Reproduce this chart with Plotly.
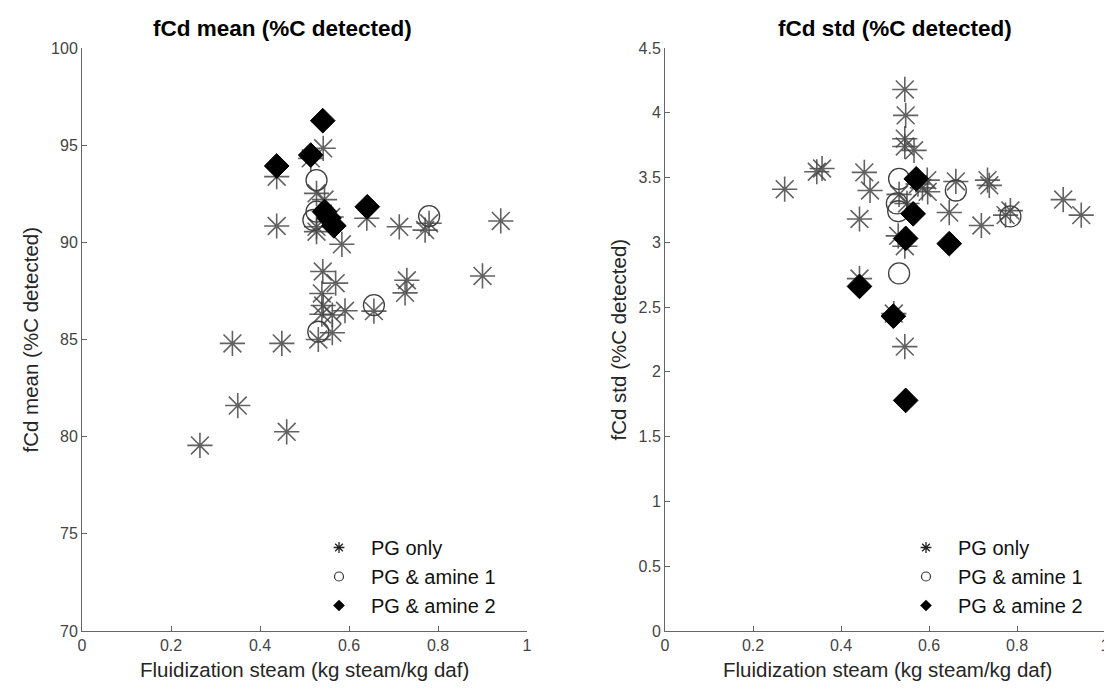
import plotly.graph_objects as go

# ---------------- data: left panel (fCd mean) ----------------
pg_mean_x = [0.265, 0.46, 0.35, 0.338, 0.449, 0.531, 0.5625, 0.541, 0.570, 0.539,
             0.542, 0.539, 0.5625, 0.591, 0.656, 0.73, 0.726, 0.90, 0.584, 0.4375,
             0.527, 0.527, 0.64, 0.713, 0.771, 0.78, 0.941, 0.527, 0.4375, 0.514,
             0.542, 0.545, 0.56]
pg_mean_y = [79.55, 80.25, 81.6, 84.8, 84.8, 85.0, 85.35, 88.5, 87.9, 87.37,
             86.75, 86.3, 86.26, 86.48, 86.46, 88.05, 87.4, 88.27, 89.9, 90.84,
             90.8, 90.55, 91.24, 90.8, 90.63, 90.98, 91.1, 92.52, 93.38, 94.32,
             94.84, 92.2, 91.3]

a1_mean_x = [0.527, 0.527, 0.52, 0.78, 0.656, 0.531]
a1_mean_y = [93.2, 91.58, 91.15, 91.35, 86.77, 85.4]

a2_mean_x = [0.541, 0.514, 0.4375, 0.641, 0.545, 0.555, 0.566]
a2_mean_y = [96.26, 94.49, 93.93, 91.83, 91.58, 91.25, 90.85]

# ---------------- data: right panel (fCd std) ----------------
pg_std_x = [0.545, 0.547, 0.545, 0.545, 0.566, 0.345, 0.357, 0.272, 0.453, 0.466,
            0.442, 0.661, 0.646, 0.733, 0.737, 0.719, 0.774, 0.785, 0.905, 0.946,
            0.545, 0.442, 0.532, 0.597, 0.575, 0.53, 0.545, 0.55, 0.52, 0.596,
            0.585]
pg_std_y = [4.18, 3.98, 3.80, 3.74, 3.71, 3.545, 3.57, 3.41, 3.54, 3.40,
            3.18, 3.47, 3.23, 3.48, 3.44, 3.13, 3.21, 3.245, 3.33, 3.21,
            2.195, 2.72, 3.37, 3.39, 3.45, 3.05, 2.97, 3.3, 2.45, 3.48,
            3.42]

a1_std_x = [0.532, 0.527, 0.53, 0.532, 0.661, 0.785]
a1_std_y = [3.49, 3.30, 3.24, 2.76, 3.40, 3.20]

a2_std_x = [0.571, 0.564, 0.547, 0.646, 0.442, 0.519, 0.547]
a2_std_y = [3.49, 3.22, 3.03, 2.99, 2.66, 2.43, 1.78]

x_ticks = [0, 0.2, 0.4, 0.6, 0.8, 1]
x_ticklabels = ["0", "0.2", "0.4", "0.6", "0.8", "1"]
mean_ticks = [70, 75, 80, 85, 90, 95, 100]
std_ticks = [0, 0.5, 1, 1.5, 2, 2.5, 3, 3.5, 4, 4.5]
std_ticklabels = ["0", "0.5", "1", "1.5", "2", "2.5", "3", "3.5", "4", "4.5"]

legend_names = ["PG only", "PG & amine 1", "PG & amine 2"]
titles = ["fCd mean (%C detected)", "fCd std (%C detected)"]
ytitles = ["fCd mean (%C detected)", "fCd std (%C detected)"]
xlabel = "Fluidization steam (kg steam/kg daf)"

FONT = "Liberation Sans, Arial, sans-serif"

star = dict(symbol="asterisk-open", size=21, color="rgba(70,70,70,0.85)",
            line=dict(width=1.6, color="rgba(70,70,70,0.85)"))
circ = dict(symbol="circle-open", size=21, color="#404040",
            line=dict(width=1.3, color="#404040"))
diam = dict(symbol="diamond", size=19, color="black",
            line=dict(width=1, color="black"))

fig = go.Figure()

panels = [
    (pg_mean_x, pg_mean_y, a1_mean_x, a1_mean_y, a2_mean_x, a2_mean_y, "x", "y", "legend"),
    (pg_std_x, pg_std_y, a1_std_x, a1_std_y, a2_std_x, a2_std_y, "x2", "y2", "legend2"),
]
for (px_, py_, cx, cy, dx, dy, xa, ya, lg) in panels:
    fig.add_trace(go.Scatter(x=px_, y=py_, mode="markers", marker=star,
                             showlegend=False, xaxis=xa, yaxis=ya, hoverinfo="skip"))
    fig.add_trace(go.Scatter(x=cx, y=cy, mode="markers", marker=circ,
                             showlegend=False, xaxis=xa, yaxis=ya, hoverinfo="skip"))
    fig.add_trace(go.Scatter(x=dx, y=dy, mode="markers", marker=diam,
                             showlegend=False, xaxis=xa, yaxis=ya, hoverinfo="skip"))
    # legend entries with small symbols
    fig.add_trace(go.Scatter(x=[None], y=[None], mode="markers", name=legend_names[0],
                             marker=dict(symbol="asterisk-open", size=9, color="#222",
                                         line=dict(width=1.3, color="#222")),
                             xaxis=xa, yaxis=ya, legend=lg))
    fig.add_trace(go.Scatter(x=[None], y=[None], mode="markers", name=legend_names[1],
                             marker=dict(symbol="circle-open", size=9, color="#333",
                                         line=dict(width=1.2, color="#333")),
                             xaxis=xa, yaxis=ya, legend=lg))
    fig.add_trace(go.Scatter(x=[None], y=[None], mode="markers", name=legend_names[2],
                             marker=dict(symbol="diamond", size=9, color="black"),
                             xaxis=xa, yaxis=ya, legend=lg))

axis_common = dict(showline=True, linecolor="#666", linewidth=1, ticks="inside",
                   ticklen=5, tickcolor="#666", showgrid=False, zeroline=False,
                   tickfont=dict(family=FONT, size=16, color="#444"),
                   mirror=False, automargin=False)

# the page places the figure 8 px from the window's top-left corner
OFF = 8
W, H = 1104, 685
L, R, T, B = 74, 7, 40, 62
pw = W - L - R
ph = H - T - B


def sx(px):
    """screen x pixel -> paper x"""
    return (px - OFF - L) / pw


def sy(py):
    """screen y pixel -> paper y"""
    return (H - B - (py - OFF)) / ph


fig.update_layout(
    width=W, height=H,
    margin=dict(l=L, r=R, t=T, b=B),
    paper_bgcolor="white", plot_bgcolor="white",
    font=dict(family=FONT, color="#262626"),
    xaxis=dict(domain=[0, sx(527)], range=[0, 1], tickvals=x_ticks,
               ticktext=x_ticklabels, **axis_common),
    yaxis=dict(range=[70, 100], tickvals=mean_ticks, **axis_common),
    xaxis2=dict(domain=[sx(665), 1], range=[0, 1], tickvals=x_ticks,
                ticktext=x_ticklabels, anchor="y2", ticklabeloverflow="allow",
                **axis_common),
    yaxis2=dict(range=[0, 4.5], tickvals=std_ticks, ticktext=std_ticklabels,
                anchor="x2", **axis_common),
    legend=dict(x=sx(307), y=sy(528), xref="paper", yref="paper",
                xanchor="left", yanchor="top",
                bgcolor="rgba(255,255,255,0)", font=dict(family=FONT, size=20, color="#111"),
                tracegroupgap=0, itemsizing="trace", itemwidth=54),
    legend2=dict(x=sx(894), y=sy(528), xref="paper", yref="paper",
                 xanchor="left", yanchor="top",
                 bgcolor="rgba(255,255,255,0)", font=dict(family=FONT, size=20, color="#111"),
                 tracegroupgap=0, itemsizing="trace", itemwidth=54),
)

ann = []
# titles
for txt, cx in zip(titles, [282, 895]):
    ann.append(dict(text="<b>" + txt + "</b>", x=sx(cx), y=sy(29),
                    xref="paper", yref="paper", showarrow=False, xanchor="center",
                    yanchor="middle", font=dict(family=FONT, size=22.5, color="black")))
# x-axis titles
for cx in [304, 887]:
    ann.append(dict(text=xlabel, x=sx(cx), y=sy(669),
                    xref="paper", yref="paper", showarrow=False, xanchor="center",
                    yanchor="middle", font=dict(family=FONT, size=20.5, color="#262626")))
# y-axis titles
for txt, cx in zip(ytitles, [30, 618]):
    ann.append(dict(text=txt, x=sx(cx), y=sy(339.5),
                    xref="paper", yref="paper", showarrow=False, xanchor="center",
                    yanchor="middle", textangle=-90,
                    font=dict(family=FONT, size=20.5, color="#262626")))
fig.update_layout(annotations=ann)

fig.write_html("out.html")
